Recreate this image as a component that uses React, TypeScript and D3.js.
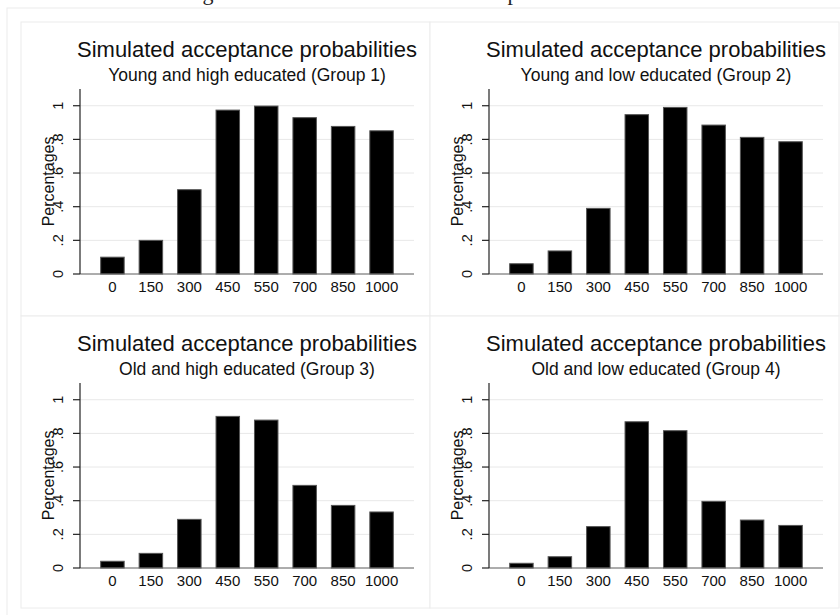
import React from "react";
import * as d3 from "d3";

const categories = ["0", "150", "300", "450", "550", "700", "850", "1000"];
const group1 = [0.1, 0.2, 0.501, 0.974, 0.998, 0.929, 0.877, 0.851];
const group2 = [0.061, 0.137, 0.39, 0.947, 0.99, 0.885, 0.812, 0.786];
const group3 = [0.04, 0.087, 0.289, 0.901, 0.879, 0.491, 0.372, 0.333];
const group4 = [0.028, 0.067, 0.246, 0.869, 0.816, 0.396, 0.285, 0.253];
const subtitles = [
  "Young and high educated (Group 1)",
  "Young and low educated (Group 2)",
  "Old and high educated (Group 3)",
  "Old and low educated (Group 4)",
];
const titleText = "Simulated acceptance probabilities";
const yTicks = [0, 0.2, 0.4, 0.6, 0.8, 1];
const yTickLabels = ["0", ".2", ".4", ".6", ".8", "1"];
const yLabel = "Percentages";

const W = 840;
const H = 615;
const FONT = "'Liberation Sans', Arial, Helvetica, sans-serif";

type PanelProps = { px: number; py: number; pw: number; ph: number; values: number[]; subtitle: string };

function Panel({ px, py, pw, ph, values, subtitle }: PanelProps) {
  const x0 = px + 59;
  const x1 = px + 393;
  const y0 = py + 252;
  const y1 = y0 - 185.1;
  const x = d3.scaleBand<string>().domain(categories).range([x0, x1]).paddingInner(0.389).paddingOuter(0.538);
  const y = d3.scaleLinear().domain([0, 1.1]).range([y0, y1]);
  const cx = (x0 + x1) / 2;
  return (
    <g>
      <rect x={px} y={py} width={pw} height={ph} fill="#fff" stroke="#ececec" strokeWidth={1} />
      <text x={cx} y={py + 34.5} textAnchor="middle" fontFamily={FONT} fontSize={22} fill="#111">
        {titleText}
      </text>
      <text x={cx} y={py + 59.3} textAnchor="middle" fontFamily={FONT} fontSize={17.5} fill="#111">
        {subtitle}
      </text>
      {yTicks.map((t) => (
        <line key={"g" + t} x1={x0} x2={x1} y1={y(t)} y2={y(t)} stroke="#e8e8e8" strokeWidth={1} />
      ))}
      {values.map((v, i) => (
        <rect
          key={i}
          x={x(categories[i])!}
          y={y(v)}
          width={x.bandwidth()}
          height={y0 - y(v)}
          fill="#000"
          stroke="#555"
          strokeWidth={1}
        />
      ))}
      <line x1={x0} x2={x1} y1={y0} y2={y0} stroke="#666" strokeWidth={1.2} />
      <line x1={x0} x2={x0} y1={y1} y2={y0} stroke="#222" strokeWidth={1.2} />
      {yTicks.map((t, i) => (
        <g key={"t" + t}>
          <line x1={x0 - 7} x2={x0} y1={y(t)} y2={y(t)} stroke="#222" strokeWidth={1.2} />
          <text
            transform={`translate(${px + 41.5},${y(t)}) rotate(-90)`}
            textAnchor="middle"
            fontFamily={FONT}
            fontSize={14.5}
            fill="#111"
          >
            {yTickLabels[i]}
          </text>
        </g>
      ))}
      <text
        transform={`translate(${px + 32.5},${(y0 + y1) / 2}) rotate(-90)`}
        textAnchor="middle"
        fontFamily={FONT}
        fontSize={16}
        fill="#111"
      >
        {yLabel}
      </text>
      {categories.map((c) => (
        <text
          key={"x" + c}
          x={x(c)! + x.bandwidth() / 2}
          y={py + 269.7}
          textAnchor="middle"
          fontFamily={FONT}
          fontSize={15}
          fill="#111"
        >
          {c}
        </text>
      ))}
    </g>
  );
}

export default function App() {
  const all = [group1, group2, group3, group4];
  const panels = [
    { px: 21, py: 22, pw: 409, ph: 294 },
    { px: 430, py: 22, pw: 409, ph: 294 },
    { px: 21, py: 316, pw: 409, ph: 292 },
    { px: 430, py: 316, pw: 409, ph: 292 },
  ];
  return (
    <div style={{ position: "absolute", left: 0, top: 0, width: W, height: H, background: "#fff" }}>
      <svg width={W} height={H} style={{ display: "block" }}>
        <rect x={0} y={0} width={W} height={H} fill="#fff" />
        <text x={208} y={-0.5} textAnchor="middle" fontFamily="'Liberation Serif', 'DejaVu Serif', serif" fontSize={22} fill="#222">
          g
        </text>
        <text x={513} y={-0.5} textAnchor="middle" fontFamily="'Liberation Serif', 'DejaVu Serif', serif" fontSize={22} fill="#222">
          p
        </text>
        <rect x={7} y={8} width={W} height={H} fill="#fff" stroke="#ececec" strokeWidth={1} />
        {panels.map((p, i) => (
          <Panel key={i} {...p} values={all[i]} subtitle={subtitles[i]} />
        ))}
      </svg>
    </div>
  );
}
